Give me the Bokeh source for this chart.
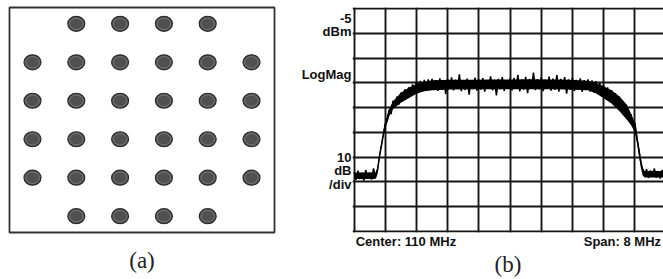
from bokeh.plotting import figure
from bokeh.layouts import row
from bokeh.models import Range1d, FixedTicker
from bokeh.embed import file_html
from bokeh.resources import INLINE

# ---------------- data: (a) 32-QAM constellation ----------------
const_i = [-3, -1, 1, 3,
           -5, -3, -1, 1, 3, 5,
           -5, -3, -1, 1, 3, 5,
           -5, -3, -1, 1, 3, 5,
           -5, -3, -1, 1, 3, 5,
           -3, -1, 1, 3]
const_q = [5, 5, 5, 5,
           3, 3, 3, 3, 3, 3,
           1, 1, 1, 1, 1, 1,
           -1, -1, -1, -1, -1, -1,
           -3, -3, -3, -3, -3, -3,
           -5, -5, -5, -5]

# ---------------- data: (b) spectrum trace ----------------
freq_mhz = [
    106.00, 106.05, 106.10, 106.15, 106.20, 106.25, 106.30, 106.35, 106.40, 106.45,
    106.50, 106.55, 106.60, 106.65, 106.70, 106.75, 106.80, 106.85, 106.90, 106.95,
    107.00, 107.05, 107.10, 107.15, 107.20, 107.25, 107.30, 107.35, 107.40, 107.45,
    107.50, 107.55, 107.60, 107.65, 107.70, 107.75, 107.80, 107.85, 107.90, 107.95,
    108.00, 108.05, 108.10, 108.15, 108.20, 108.25, 108.30, 108.35, 108.40, 108.45,
    108.50, 108.55, 108.60, 108.65, 108.70, 108.75, 108.80, 108.85, 108.90, 108.95,
    109.00, 109.05, 109.10, 109.15, 109.20, 109.25, 109.30, 109.35, 109.40, 109.45,
    109.50, 109.55, 109.60, 109.65, 109.70, 109.75, 109.80, 109.85, 109.90, 109.95,
    110.00, 110.05, 110.10, 110.15, 110.20, 110.25, 110.30, 110.35, 110.40, 110.45,
    110.50, 110.55, 110.60, 110.65, 110.70, 110.75, 110.80, 110.85, 110.90, 110.95,
    111.00, 111.05, 111.10, 111.15, 111.20, 111.25, 111.30, 111.35, 111.40, 111.45,
    111.50, 111.55, 111.60, 111.65, 111.70, 111.75, 111.80, 111.85, 111.90, 111.95,
    112.00, 112.05, 112.10, 112.15, 112.20, 112.25, 112.30, 112.35, 112.40, 112.45,
    112.50, 112.55, 112.60, 112.65, 112.70, 112.75, 112.80, 112.85, 112.90, 112.95,
    113.00, 113.05, 113.10, 113.15, 113.20, 113.25, 113.30, 113.35, 113.40, 113.45,
    113.50, 113.55, 113.60, 113.65, 113.70, 113.75, 113.80, 113.85, 113.90, 113.95,
]
level_dbm = [
    -71.0, -74.2, -70.5, -73.8, -71.4, -74.5, -70.2, -73.6, -71.2, -74.0,
    -69.5, -73.2, -70.5, -64.8, -60.5, -56.0, -51.5, -50.5, -45.8, -47.6,
    -42.2, -45.0, -40.6, -43.8, -39.0, -42.4, -37.6, -41.2, -36.8, -40.0,
    -35.6, -39.2, -34.6, -38.8, -34.2, -38.4, -33.8, -38.2, -33.6, -37.9,
    -33.4, -37.6, -33.9, -38.3, -33.2, -37.8, -34.0, -39.6, -33.5, -37.4,
    -32.8, -38.1, -33.7, -37.2, -31.6, -38.4, -33.9, -37.9, -33.3, -39.8,
    -34.1, -37.5, -32.9, -38.2, -33.6, -37.7, -33.1, -38.6, -34.0, -37.3,
    -32.4, -38.0, -33.8, -40.1, -33.4, -37.6, -32.7, -38.3, -33.9, -37.4,
    -33.2, -38.1, -33.0, -37.2, -31.8, -38.5, -33.6, -37.8, -32.6, -39.2,
    -33.4, -37.0, -30.9, -38.0, -33.5, -37.6, -32.8, -38.4, -33.7, -37.3,
    -32.5, -38.2, -33.3, -37.9, -31.9, -38.6, -33.4, -37.5, -32.7, -39.4,
    -33.6, -37.8, -33.0, -38.3, -33.8, -37.6, -33.2, -38.7, -33.9, -37.9,
    -33.6, -38.6, -34.0, -39.0, -34.3, -39.6, -35.0, -40.4, -35.8, -41.4,
    -36.8, -42.4, -37.9, -43.6, -39.2, -45.0, -40.6, -46.6, -42.4, -48.4,
    -44.6, -50.0, -47.6, -52.6, -51.2, -57.0, -61.8, -66.8, -70.2, -72.6,
    -69.8, -73.4, -70.4, -72.8, -69.6, -73.2, -70.8, -73.6, -70.2, -72.9,
]

# dense core of the noisy trace (upper / lower edge)
band_freq = [106.00, 106.55, 106.60, 106.65, 106.70, 106.75, 106.80, 106.90, 107.00,
             107.20, 107.40, 107.60, 107.80, 108.00, 108.50, 109.00, 109.50, 110.00,
             110.50, 111.00, 111.50, 112.00, 112.20, 112.40, 112.60, 112.80, 113.00,
             113.10, 113.20, 113.25, 113.30, 113.35, 113.40, 113.45, 113.95]
band_top = [-71.2, -71.2, -69.0, -63.5, -59.0, -54.5, -50.5, -45.6, -42.4,
            -39.0, -37.0, -35.4, -34.6, -34.0, -33.8, -33.8, -33.7, -33.7,
            -33.6, -33.7, -33.8, -34.2, -35.0, -36.4, -38.0, -40.4, -44.0,
            -47.4, -51.0, -55.0, -60.0, -65.0, -69.2, -70.6, -70.6]
band_bottom = [-73.8, -73.8, -71.5, -66.0, -61.5, -57.0, -53.4, -48.6, -45.6,
               -43.0, -41.2, -39.4, -38.4, -38.0, -37.7, -37.6, -37.6, -37.6,
               -37.6, -37.6, -37.7, -38.0, -39.2, -41.2, -43.4, -46.4, -50.0,
               -52.0, -55.0, -59.0, -64.0, -69.0, -72.4, -73.2, -73.2]

freq_gridlines = [106.0, 106.8, 107.6, 108.4, 109.2, 110.0, 110.8, 111.6, 112.4, 113.2, 114.0]
level_gridlines = [-95, -85, -75, -65, -55, -45, -35, -25, -15, -5]

left_label_pos = [-9.2, -14.2, -31.7, -65.3, -70.3, -76.0]
left_label_txt = ["-5", "dBm", "LogMag", "10", "dB", "/div"]
bottom_label_pos = [107.33, 112.88]
bottom_label_txt = ["Center: 110 MHz", "Span: 8 MHz"]

SANS = "Liberation Sans"
SERIF = "Liberation Serif"


def hide_axis_parts(ax):
    ax.axis_line_color = None
    ax.major_tick_line_color = None
    ax.minor_tick_line_color = None
    ax.major_tick_in = 0
    ax.major_tick_out = 0
    ax.minor_tick_in = 0
    ax.minor_tick_out = 0


# ---------------- panel (a) ----------------
pa = figure(width=298, height=279, output_backend="svg", toolbar_location=None,
            x_range=Range1d(-6.05, 6.05), y_range=Range1d(-5.85, 5.85),
            min_border_left=9, min_border_right=24, min_border_top=7,
            min_border_bottom=32)
pa.grid.visible = False
pa.yaxis.visible = False
pa.outline_line_color = "#333333"
pa.outline_line_width = 1.8
pa.background_fill_color = "white"
pa.border_fill_color = "white"

ax = pa.xaxis[0]
hide_axis_parts(ax)
ax.ticker = FixedTicker(ticks=[])
ax.major_label_text_font_size = "0px"
ax.axis_label = "(a)"
ax.axis_label_standoff = 15
ax.axis_label_text_font = SERIF
ax.axis_label_text_font_style = "normal"
ax.axis_label_text_font_size = "23px"
ax.axis_label_text_color = "#222222"

pa.ellipse(x=const_i, y=const_q, width=17, height=15,
           width_units="screen", height_units="screen",
           fill_color="#505050", line_color="#2c2c2c", line_width=1.2)
pa.ellipse(x=const_i, y=const_q, width=13.5, height=11.5,
           width_units="screen", height_units="screen",
           fill_color=None, line_color="#a8a8a8", line_width=0.8, line_alpha=0.55)

# ---------------- panel (b) ----------------
pb = figure(width=365, height=279, output_backend="svg", toolbar_location=None,
            x_range=Range1d(105.96, 113.934), y_range=Range1d(-95.41, -4.607),
            min_border_left=54, min_border_right=0, min_border_top=6,
            min_border_bottom=42)
pb.outline_line_color = None
pb.background_fill_color = "white"
pb.border_fill_color = "white"

pb.xgrid.ticker = FixedTicker(ticks=freq_gridlines)
pb.ygrid.ticker = FixedTicker(ticks=level_gridlines)
for g in (pb.xgrid[0], pb.ygrid[0]):
    g.grid_line_color = "#151515"
    g.grid_line_width = 1.9
    g.grid_line_alpha = 1.0

ly = pb.yaxis[0]
hide_axis_parts(ly)
ly.ticker = FixedTicker(ticks=left_label_pos)
ly.major_label_overrides = {p: t for p, t in zip(left_label_pos, left_label_txt)}
ly.major_label_standoff = 1
ly.major_label_text_font = SANS
ly.major_label_text_font_style = "bold"
ly.major_label_text_font_size = "13px"
ly.major_label_text_color = "#111111"

lx = pb.xaxis[0]
hide_axis_parts(lx)
lx.ticker = FixedTicker(ticks=bottom_label_pos)
lx.major_label_overrides = {p: t for p, t in zip(bottom_label_pos, bottom_label_txt)}
lx.major_label_standoff = 1
lx.major_label_text_font = SANS
lx.major_label_text_font_style = "bold"
lx.major_label_text_font_size = "13px"
lx.major_label_text_color = "#111111"
lx.major_label_text_line_height = 0.8
lx.axis_label = "(b)"
lx.axis_label_standoff = 0
lx.axis_label_text_font = SERIF
lx.axis_label_text_font_style = "normal"
lx.axis_label_text_font_size = "23px"
lx.axis_label_text_color = "#222222"

pb.varea(x=band_freq, y1=band_bottom, y2=band_top, fill_color="black")
pb.line(freq_mhz, level_dbm, line_color="black", line_width=1.5)

layout = row(pa, pb)
open("out.html", "w").write(file_html(layout, INLINE))
